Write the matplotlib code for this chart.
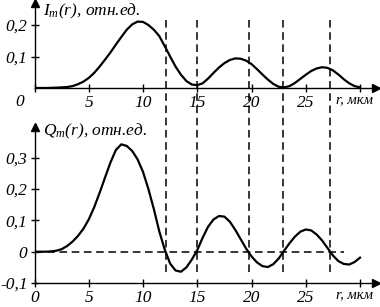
import numpy as np
import matplotlib.pyplot as plt
from matplotlib.lines import Line2D
from matplotlib.transforms import blended_transform_factory

plt.rcParams['font.family'] = 'Liberation Serif'
plt.rcParams['font.style'] = 'italic'
plt.rcParams['mathtext.fontset'] = 'custom'
plt.rcParams['mathtext.it'] = 'Liberation Serif:italic'
plt.rcParams['mathtext.rm'] = 'Liberation Serif:italic'

# данные (r, мкм)
r = np.arange(0, 30.5, 0.5)
I_m = [0, 0, 0, 0.0005, 0.001, 0.002, 0.003, 0.006, 0.012, 0.02,
       0.032, 0.048, 0.068, 0.09, 0.113, 0.138, 0.162, 0.185, 0.202, 0.211,
       0.21, 0.2, 0.185, 0.165, 0.133, 0.1, 0.068, 0.042, 0.022, 0.011,
       0.009, 0.015, 0.03, 0.048, 0.065, 0.079, 0.089, 0.094, 0.093, 0.087,
       0.076, 0.06, 0.043, 0.027, 0.013, 0.004, 0.002, 0.006, 0.016, 0.029,
       0.042, 0.054, 0.062, 0.066, 0.064, 0.056, 0.043, 0.028, 0.015, 0.006,
       0.002]
Q_m = [0, 0, 0, 0.001, 0.003, 0.008, 0.018, 0.032, 0.05, 0.073,
       0.103, 0.142, 0.188, 0.237, 0.285, 0.325, 0.343, 0.338, 0.322, 0.295,
       0.255, 0.2, 0.136, 0.065, 0.007, -0.038, -0.06, -0.064, -0.05, -0.025,
       0.005, 0.045, 0.08, 0.103, 0.114, 0.112, 0.096, 0.07, 0.04, 0.01,
       -0.015, -0.034, -0.046, -0.049, -0.04, -0.022, 0.003, 0.027, 0.048, 0.064,
       0.071, 0.068, 0.055, 0.036, 0.012, -0.012, -0.03, -0.039, -0.041, -0.033,
       -0.019]
r_dash = [12.1, 15.0, 19.75, 22.9, 27.2]   # нули Q_m
zero_end = 28.5

x_ticks = [0, 5, 10, 15, 20, 25, 30]
x_labels = ['0', '5', '10', '15', '20', '25', '']
yI_ticks = [0.1, 0.2]
yI_labels = ['0,1', '0,2']
yQ_ticks = [-0.1, 0, 0.1, 0.2, 0.3]
yQ_labels = ['-0,1', '0', '0,1', '0,2', '0,3']

W, H = 380, 307
fig = plt.figure(figsize=(W/100, H/100), dpi=100)
ax1 = fig.add_axes([34.5/W, (H-88)/H, 341.8/W, 85/H])
ax2 = fig.add_axes([34.5/W, 24/H, 341.8/W, 156.5/H])

fs = 12.5
for ax in (ax1, ax2):
    ax.set_xlim(0, 31.5)
    for s in ('top', 'right'):
        ax.spines[s].set_visible(False)
    for s in ('left', 'bottom'):
        ax.spines[s].set_linewidth(1.0)
    ax.set_facecolor('none')
    # стрелки осей
    ax.plot(1, 0, '>k', markersize=6, transform=ax.transAxes, clip_on=False)
    ax.plot(0, 1, '^k', markersize=6, transform=ax.transAxes, clip_on=False)
    ax.set_xticks(x_ticks)
    ax.tick_params(direction='inout', length=6, width=1.0, labelsize=fs, pad=2)
    ax.annotate('r, мкм', xy=(27.8, 0), xycoords=('data', 'axes fraction'),
                xytext=(0, -4), textcoords='offset points', va='top', ha='left', fontsize=10.5)

# верхний график
ax1.set_ylim(0, 0.27)
ax1.plot(r, I_m, color='black', linewidth=1.6)
ax1.set_xticklabels(['', '5', '10', '15', '20', '25', ''])
ax1.set_yticks(yI_ticks)
ax1.set_yticklabels(yI_labels)
ax1.annotate('0', xy=(0, 0), xycoords='axes fraction', xytext=(-11, -4),
             textcoords='offset points', va='top', ha='center', fontsize=fs)
ax1.text(0.025, 0.9, r'$I_m(r)$, отн.ед.', transform=ax1.transAxes,
         va='center', ha='left', fontsize=fs)

# нижний график
ax2.set_ylim(-0.1, 0.4)
ax2.plot(r, Q_m, color='black', linewidth=1.6)
ax2.plot([0, zero_end], [0, 0], color='black', linewidth=1.1, dashes=(5, 3))
ax2.set_xticklabels(x_labels)
ax2.set_yticks(yQ_ticks)
ax2.set_yticklabels(yQ_labels)
ax2.text(0.025, 0.97, r'$Q_m(r)$, отн.ед.', transform=ax2.transAxes,
         va='center', ha='left', fontsize=fs)

# вертикальные пунктиры через оба графика
tr = blended_transform_factory(ax2.transData, fig.transFigure)
for xd in r_dash:
    fig.add_artist(Line2D([xd, xd], [(H-272)/H, (H-20)/H], transform=tr,
                          color='black', linewidth=1.1, dashes=(5, 3)))

fig.savefig('out.png', dpi=100)
